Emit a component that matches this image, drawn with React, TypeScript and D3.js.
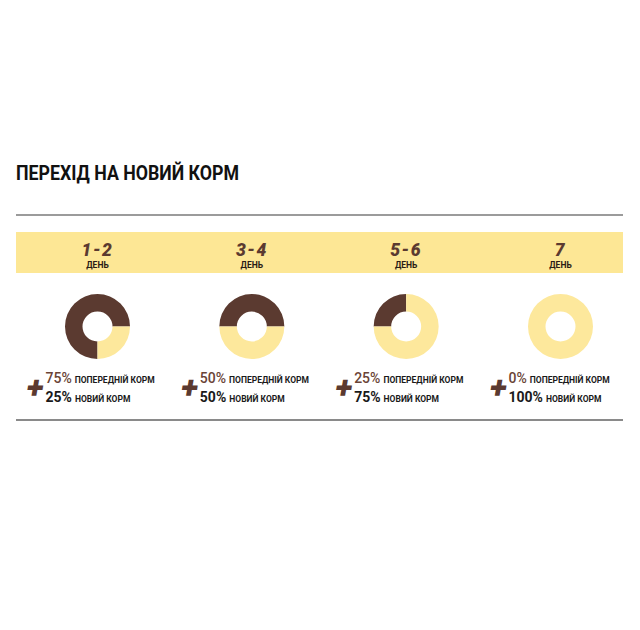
import React from "react";
import * as d3 from "d3";

const title = "ПЕРЕХІД НА НОВИЙ КОРМ";
const days = ["1-2", "3-4", "5-6", "7"];
const dayUnit = "ДЕНЬ";
const previousPct = [75, 50, 25, 0];
const newPct = [25, 50, 75, 100];
const startAnglesDeg = [180, 270, 270, 0];
const prevLabel = "ПОПЕРЕДНІЙ КОРМ";
const newLabel = "НОВИЙ КОРМ";

const BROWN = "#5b3a30";
const YELLOW = "#fde89c";
const BAND = "#fde795";
const FONT = "Roboto, 'Noto Sans', sans-serif";

export default function App() {
  const W = 640;
  const H = 630;
  const x = d3.scalePoint<string>().domain(days).range([97.5, 560.5]);
  const outerR = 32.5;
  const innerR = 15;
  const arc = d3.arc<d3.PieArcDatum<number>>().innerRadius(innerR).outerRadius(outerR);
  const colors = [BROWN, YELLOW];
  const donutY = 326.5;

  return (
    <svg width={W} height={H} style={{ position: "absolute", left: 0, top: 0 }}>
      <rect width={W} height={H} fill="#fff" />
      <text x={16} y={180} fontFamily={FONT} fontWeight={700} fontSize={20} fill="#111"
        textLength={223} lengthAdjust="spacingAndGlyphs">{title}</text>
      <line x1={16} x2={623} y1={215} y2={215} stroke="#7a7a7a" strokeWidth={1.5} />
      <rect x={16} y={232} width={607} height={41} fill={BAND} />
      <line x1={16} x2={623} y1={420} y2={420} stroke="#8a8a8a" strokeWidth={2} />
      {days.map((d, i) => {
        const cx = x(d)!;
        const pie = d3.pie<number>().sort(null)
          .startAngle((startAnglesDeg[i] * Math.PI) / 180)
          .endAngle((startAnglesDeg[i] * Math.PI) / 180 + 2 * Math.PI);
        const arcs = pie([previousPct[i], newPct[i]]);
        return (
          <g key={d}>
            <text x={cx} y={255.5} textAnchor="middle" fontFamily={FONT} fontStyle="italic"
              fontWeight={900} fontSize={17.5} fill={BROWN} letterSpacing={1.5}>{d}</text>
            <text x={cx} y={268} textAnchor="middle" fontFamily={FONT} fontWeight={700}
              fontSize={8.5} fill="#2a1c16">{dayUnit}</text>
            <g transform={`translate(${cx},${donutY})`}>
              {arcs.map((a, j) => (
                a.value > 0 ? <path key={j} d={arc(a)!} fill={colors[j]} /> : null
              ))}
            </g>
            <text x={cx - 62} y={398} textAnchor="middle" fontFamily={FONT} fontWeight={900}
              fontSize={31} fill={BROWN} transform={`skewX(-10)`} style={{ transformBox: "fill-box", transformOrigin: "center" }}>+</text>
            <text x={cx - 52} y={383} fontFamily={FONT}>
              <tspan fontWeight={500} fontSize={14} fill="#6a4436">{previousPct[i]}%</tspan>
              <tspan dx={3} fontWeight={700} fontSize={8.5} fill="#1a1a1a">{prevLabel}</tspan>
            </text>
            <text x={cx - 52} y={401.5} fontFamily={FONT}>
              <tspan fontWeight={700} fontSize={14} fill="#1a1a1a">{newPct[i]}%</tspan>
              <tspan dx={3} fontWeight={700} fontSize={8.5} fill="#1a1a1a">{newLabel}</tspan>
            </text>
          </g>
        );
      })}
    </svg>
  );
}
